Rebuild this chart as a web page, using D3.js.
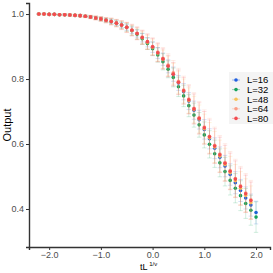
<!DOCTYPE html>
<html>
<head>
<meta charset="utf-8">
<script src="https://cdn.jsdelivr.net/npm/d3@7"></script>
<style>
  body { margin: 0; background: #fff; }
  svg { display: block; font-family: "Liberation Sans", Arial, sans-serif; }
</style>
</head>
<body>
<svg id="chart" width="273" height="273"></svg>
<script>
// x grid shared by all series (tL^{1/nu})
const xs = [-2.2,-2.1,-2.0,-1.9,-1.8,-1.7,-1.6,-1.5,-1.4,-1.3,-1.2,-1.1,-1.0,-0.9,-0.8,-0.7,-0.6,-0.5,-0.4,-0.3,-0.2,-0.1,
  0.0,0.1,0.2,0.3,0.4,0.5,0.6,0.7,0.8,0.9,1.0,1.1,1.2,1.3,1.4,1.5,1.6,1.7,1.8,1.9,2.0];

const labels = ['L=16', 'L=32', 'L=48', 'L=64', 'L=80'];
const colors = ['#1f5ee0', '#16a35c', '#f7c35a', '#fb9e86', '#f24b50'];

const yL16 = [1.000,1.000,0.999,0.999,0.998,0.998,0.997,0.996,0.995,0.993,0.991,0.988,0.985,0.981,0.977,0.972,0.966,0.959,0.950,0.940,0.927,0.913,
  0.898,0.880,0.861,0.839,0.815,0.788,0.761,0.732,0.704,0.675,0.645,0.616,0.587,0.559,0.532,0.506,0.481,0.457,0.434,0.412,0.389];
const yL32 = [1.000,1.000,0.999,0.999,0.998,0.998,0.997,0.996,0.995,0.993,0.991,0.988,0.985,0.981,0.977,0.972,0.966,0.959,0.949,0.938,0.924,0.909,
  0.893,0.874,0.853,0.830,0.805,0.776,0.748,0.718,0.689,0.659,0.628,0.599,0.570,0.542,0.515,0.488,0.464,0.441,0.417,0.396,0.375];
const yL48 = [1.000,1.000,0.999,0.999,0.998,0.998,0.997,0.996,0.995,0.993,0.991,0.988,0.985,0.981,0.977,0.972,0.966,0.959,0.950,0.940,0.927,0.913,
  0.898,0.880,0.861,0.840,0.816,0.790,0.763,0.734,0.706,0.677,0.647,0.619,0.591,0.563,0.537,0.512,0.487,0.464,0.442,0.420];
const yL64 = [1.000,1.000,0.999,0.999,0.998,0.998,0.997,0.996,0.995,0.993,0.991,0.988,0.985,0.981,0.977,0.972,0.966,0.959,0.951,0.941,0.929,0.915,
  0.900,0.883,0.864,0.843,0.819,0.793,0.766,0.738,0.710,0.681,0.652,0.624,0.596,0.569,0.543,0.518,0.494,0.471,0.449,0.428];
const yL80 = [1.000,1.000,0.999,0.999,0.998,0.998,0.997,0.996,0.995,0.993,0.991,0.988,0.985,0.981,0.977,0.972,0.966,0.959,0.950,0.940,0.928,0.915,
  0.899,0.881,0.862,0.840,0.815,0.790,0.764,0.736,0.708,0.679,0.650,0.622,0.594,0.567,0.541,0.516,0.492,0.469,0.447,0.426];

const eL16 = [0.001,0.001,0.001,0.001,0.001,0.002,0.002,0.002,0.002,0.002,0.003,0.004,0.004,0.005,0.006,0.007,0.008,0.009,0.010,0.011,0.013,0.014,
  0.016,0.017,0.019,0.020,0.022,0.023,0.025,0.026,0.028,0.029,0.030,0.031,0.032,0.032,0.033,0.033,0.034,0.034,0.034,0.034,0.035];
const eL32 = [0.001,0.001,0.001,0.002,0.002,0.002,0.002,0.003,0.003,0.003,0.004,0.005,0.006,0.006,0.008,0.009,0.010,0.012,0.014,0.015,0.017,0.018,
  0.021,0.022,0.025,0.026,0.029,0.030,0.033,0.034,0.037,0.038,0.040,0.042,0.042,0.043,0.044,0.045,0.045,0.046,0.046,0.046,0.047];
const eL48 = [0.001,0.001,0.002,0.002,0.002,0.003,0.003,0.003,0.004,0.004,0.005,0.005,0.006,0.007,0.009,0.010,0.012,0.014,0.015,0.017,0.019,0.021,
  0.023,0.025,0.028,0.030,0.032,0.034,0.037,0.039,0.041,0.043,0.045,0.047,0.048,0.049,0.050,0.050,0.050,0.051,0.051,0.051];
const eL64 = [0.001,0.001,0.002,0.002,0.002,0.003,0.003,0.003,0.004,0.004,0.005,0.006,0.007,0.008,0.011,0.012,0.014,0.016,0.018,0.020,0.022,0.024,
  0.027,0.029,0.033,0.035,0.038,0.040,0.043,0.045,0.048,0.050,0.053,0.055,0.056,0.057,0.058,0.059,0.059,0.060,0.060,0.060];
const eL80 = [0.001,0.001,0.002,0.002,0.002,0.003,0.003,0.003,0.004,0.004,0.005,0.006,0.007,0.008,0.010,0.011,0.013,0.015,0.017,0.019,0.021,0.023,
  0.026,0.028,0.031,0.033,0.036,0.038,0.041,0.043,0.046,0.048,0.050,0.052,0.053,0.054,0.055,0.056,0.056,0.057,0.057,0.057];

const xTicks = [-2, -1, 0, 1, 2];
const yTicks = [0.4, 0.6, 0.8, 1.0];

const ys = [yL16, yL32, yL48, yL64, yL80];
const errs = [eL16, eL32, eL48, eL64, eL80];

const svg = d3.select('#chart');
const plotLeft = 29, plotRight = 270, plotTop = 3, plotBottom = 247;

const x = d3.scaleLinear().domain([-2.39, 2.27]).range([plotLeft, plotRight]);
const y = d3.scaleLinear().domain([0.283, 1.034]).range([plotBottom, plotTop]);

const series = labels.map((label, s) => ({
  label,
  color: colors[s],
  points: ys[s].map((v, i) => ({ x: xs[i], y: v, e: errs[s][i] }))
}));

// axes
const xAxis = svg.append('g')
  .attr('transform', `translate(0,${plotBottom})`)
  .call(d3.axisBottom(x).tickValues(xTicks).tickFormat(d3.format('.1f')).tickSize(3).tickPadding(2));
const yAxis = svg.append('g')
  .attr('transform', `translate(${plotLeft},0)`)
  .call(d3.axisLeft(y).tickValues(yTicks).tickFormat(d3.format('.1f')).tickSize(3).tickPadding(2));

[xAxis, yAxis].forEach(g => {
  g.select('.domain').attr('stroke', '#333').attr('stroke-width', 1.4);
  g.selectAll('.tick line').attr('stroke', '#333');
  g.selectAll('.tick text').attr('fill', '#4d4d4d').style('font-size', '9px');
});

// series: error bars then points
const $series = svg.selectAll('.series')
  .data(series)
  .enter()
    .append('g')
    .attr('class', 'series');

const $err = $series.selectAll('.err')
  .data(d => d.points.map(p => ({ ...p, color: d.color })))
  .enter()
    .append('g')
    .attr('class', 'err')
    .attr('stroke', d => d.color)
    .attr('stroke-opacity', 0.24)
    .attr('stroke-width', 0.8);

$err.append('line')
  .attr('x1', d => x(d.x)).attr('x2', d => x(d.x))
  .attr('y1', d => y(d.y - d.e)).attr('y2', d => y(d.y + d.e));
$err.append('line')
  .attr('x1', d => x(d.x) - 2.2).attr('x2', d => x(d.x) + 2.2)
  .attr('y1', d => y(d.y - d.e)).attr('y2', d => y(d.y - d.e));
$err.append('line')
  .attr('x1', d => x(d.x) - 2.2).attr('x2', d => x(d.x) + 2.2)
  .attr('y1', d => y(d.y + d.e)).attr('y2', d => y(d.y + d.e));

$series.selectAll('.pt')
  .data(d => d.points.map(p => ({ ...p, color: d.color })))
  .enter()
    .append('circle')
    .attr('class', 'pt')
    .attr('cx', d => x(d.x))
    .attr('cy', d => y(d.y))
    .attr('r', 1.8)
    .attr('fill', d => d.color);

// axis titles
svg.append('text')
  .attr('transform', `translate(11,${(plotTop + plotBottom) / 2}) rotate(-90)`)
  .attr('text-anchor', 'middle')
  .style('font-size', '11px')
  .attr('fill', '#000')
  .text('Output');

const xt = svg.append('text')
  .attr('x', 140)
  .attr('y', 270)
  .style('font-size', '9px')
  .attr('fill', '#000');
xt.append('tspan').text('tL');
xt.append('tspan').attr('dy', -4).style('font-size', '6px').text(' 1/\u03bd');

// legend
const legend = svg.append('g').attr('transform', 'translate(229,72)');
legend.append('rect')
  .attr('width', 44).attr('height', 52)
  .attr('fill', '#f4f4f4');

const $items = legend.selectAll('.item')
  .data(series)
  .enter()
    .append('g')
    .attr('class', 'item')
    .attr('transform', (_, i) => `translate(0,${8 + i * 9.6})`);

$items.append('line')
  .attr('x1', 3).attr('x2', 11)
  .attr('stroke', d => d.color).attr('stroke-opacity', 0.5).attr('stroke-width', 0.8);
$items.append('circle')
  .attr('cx', 7).attr('r', 1.8)
  .attr('fill', d => d.color);
$items.append('text')
  .attr('x', 18).attr('dy', '0.35em')
  .style('font-size', '9.5px')
  .attr('fill', '#000')
  .text(d => d.label);
</script>
</body>
</html>
